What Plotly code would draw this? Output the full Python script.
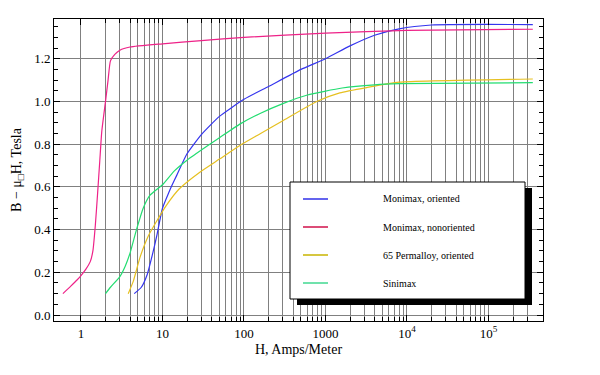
import plotly.graph_objects as go

# ---- data ----
names = ["Monimax, oriented", "Monimax, nonoriented", "65 Permalloy, oriented", "Sinimax"]

h_monimax_or = [4.5, 5.5, 6.5, 7.5, 8.5, 10, 12, 13, 15, 20, 30, 50, 100, 200, 500, 1000, 2000, 4000, 8000, 20000, 350000]
b_monimax_or = [0.10, 0.13, 0.19, 0.28, 0.37, 0.50, 0.575, 0.605, 0.655, 0.755, 0.845, 0.93, 1.01, 1.07, 1.15, 1.20, 1.26, 1.31, 1.34, 1.358, 1.36]

h_monimax_non = [0.6, 0.75, 0.9, 1.0, 1.15, 1.3, 1.4, 1.5, 1.6, 1.7, 1.8, 2.0, 2.15, 2.3, 2.6, 3.0, 4.0, 10, 30, 100, 1000, 10000, 350000]
b_monimax_non = [0.10, 0.135, 0.165, 0.185, 0.215, 0.25, 0.30, 0.42, 0.57, 0.72, 0.86, 1.00, 1.10, 1.19, 1.22, 1.24, 1.255, 1.27, 1.285, 1.30, 1.32, 1.333, 1.338]

h_permalloy = [3.8, 4.4, 5.3, 6.7, 8.5, 11, 16, 29, 50, 90, 160, 300, 780, 1500, 3200, 8000, 350000]
b_permalloy = [0.10, 0.16, 0.27, 0.37, 0.44, 0.51, 0.59, 0.67, 0.73, 0.795, 0.85, 0.91, 1.00, 1.04, 1.065, 1.09, 1.105]

h_sinimax = [2.0, 2.3, 3.0, 3.5, 4.0, 4.8, 5.8, 7.0, 10, 14, 20, 35, 50, 90, 160, 300, 600, 1600, 4000, 8000, 350000]
b_sinimax = [0.10, 0.13, 0.18, 0.23, 0.29, 0.40, 0.50, 0.56, 0.61, 0.675, 0.725, 0.79, 0.83, 0.895, 0.945, 0.99, 1.03, 1.063, 1.078, 1.083, 1.088]

x_tick_vals = [1, 10, 100, 1000, 10000, 100000]
x_tick_text = ["1", "10", "100", "1000", "10<sup>4</sup>", "10<sup>5</sup>"]
x_minor_vals = [m * 10 ** k for k in range(0, 6) for m in range(2, 10) if m * 10 ** k <= 300000]

curve_colors = ["#3535ee", "#ee2288", "#e6c020", "#22dd70"]
legend_colors = ["#3030e8", "#d0104a", "#c8b400", "#40d890"]

series = [
    (h_monimax_or, b_monimax_or),
    (h_monimax_non, b_monimax_non),
    (h_permalloy, b_permalloy),
    (h_sinimax, b_sinimax),
]

FONT = "Liberation Serif"

fig = go.Figure()
for (hx, by), name, col in zip(series, names, curve_colors):
    fig.add_trace(go.Scatter(x=hx, y=by, mode="lines", name=name,
                             line=dict(color=col, width=1.2, shape="spline", smoothing=0.5),
                             showlegend=False))

# ---- manual legend (box with drop shadow) ----
def px_x(p):
    return (p - 54) / 489.0

def px_y(p):
    return (321 - p) / 302.0

shapes = [
    dict(type="rect", xref="paper", yref="paper", x0=px_x(297), x1=px_x(532), y0=px_y(305), y1=px_y(188),
         fillcolor="black", line=dict(width=0), layer="above"),
    dict(type="rect", xref="paper", yref="paper", x0=px_x(290), x1=px_x(525), y0=px_y(299), y1=px_y(182),
         fillcolor="white", line=dict(color="black", width=1), layer="above"),
]
annotations = []
for i, (name, col) in enumerate(zip(names, legend_colors)):
    yy = 199 + 28 * i
    shapes.append(dict(type="line", xref="paper", yref="paper", x0=px_x(303), x1=px_x(328),
                       y0=px_y(yy), y1=px_y(yy), line=dict(color=col, width=1.5), layer="above"))
    annotations.append(dict(xref="paper", yref="paper", x=px_x(381), y=px_y(yy), text=name,
                            showarrow=False, xanchor="left", yanchor="middle",
                            font=dict(family=FONT, size=10, color="black")))

fig.update_layout(
    width=600, height=375,
    margin=dict(l=54, r=57, t=19, b=54),
    paper_bgcolor="white", plot_bgcolor="white",
    font=dict(family=FONT, size=13, color="black"),
    shapes=shapes, annotations=annotations,
    showlegend=False,
)
fig.update_xaxes(
    type="log", range=[-0.331, 5.669], automargin=False,
    tickvals=x_tick_vals, ticktext=x_tick_text,
    showgrid=True, gridcolor="#808080", gridwidth=1,
    ticks="inside", ticklen=6, tickcolor="black",
    showline=True, linecolor="black", linewidth=1, mirror="allticks",
    minor=dict(tickvals=x_minor_vals, showgrid=True, gridcolor="#808080", gridwidth=1,
               ticks="inside", ticklen=4, tickcolor="black"),
    title=dict(text="H, Amps/Meter", font=dict(family=FONT, size=14), standoff=4),
    tickfont=dict(family=FONT, size=13),
    zeroline=False,
)
fig.update_yaxes(
    range=[-0.028, 1.386], automargin=False,
    tick0=0, dtick=0.2, tickformat=".1f",
    showgrid=True, gridcolor="#808080", gridwidth=1,
    ticks="inside", ticklen=6, tickcolor="black",
    showline=True, linecolor="black", linewidth=1, mirror="allticks",
    minor=dict(dtick=0.05, tick0=0, ticks="inside", ticklen=4, tickcolor="black", showgrid=False),
    title=dict(text="B − μ<sub>□</sub>H, Tesla", font=dict(family=FONT, size=14), standoff=9),
    tickfont=dict(family=FONT, size=13),
    zeroline=False,
)

fig.write_html("out.html", config={"displayModeBar": False},
               post_script="document.body.style.margin='0';")
